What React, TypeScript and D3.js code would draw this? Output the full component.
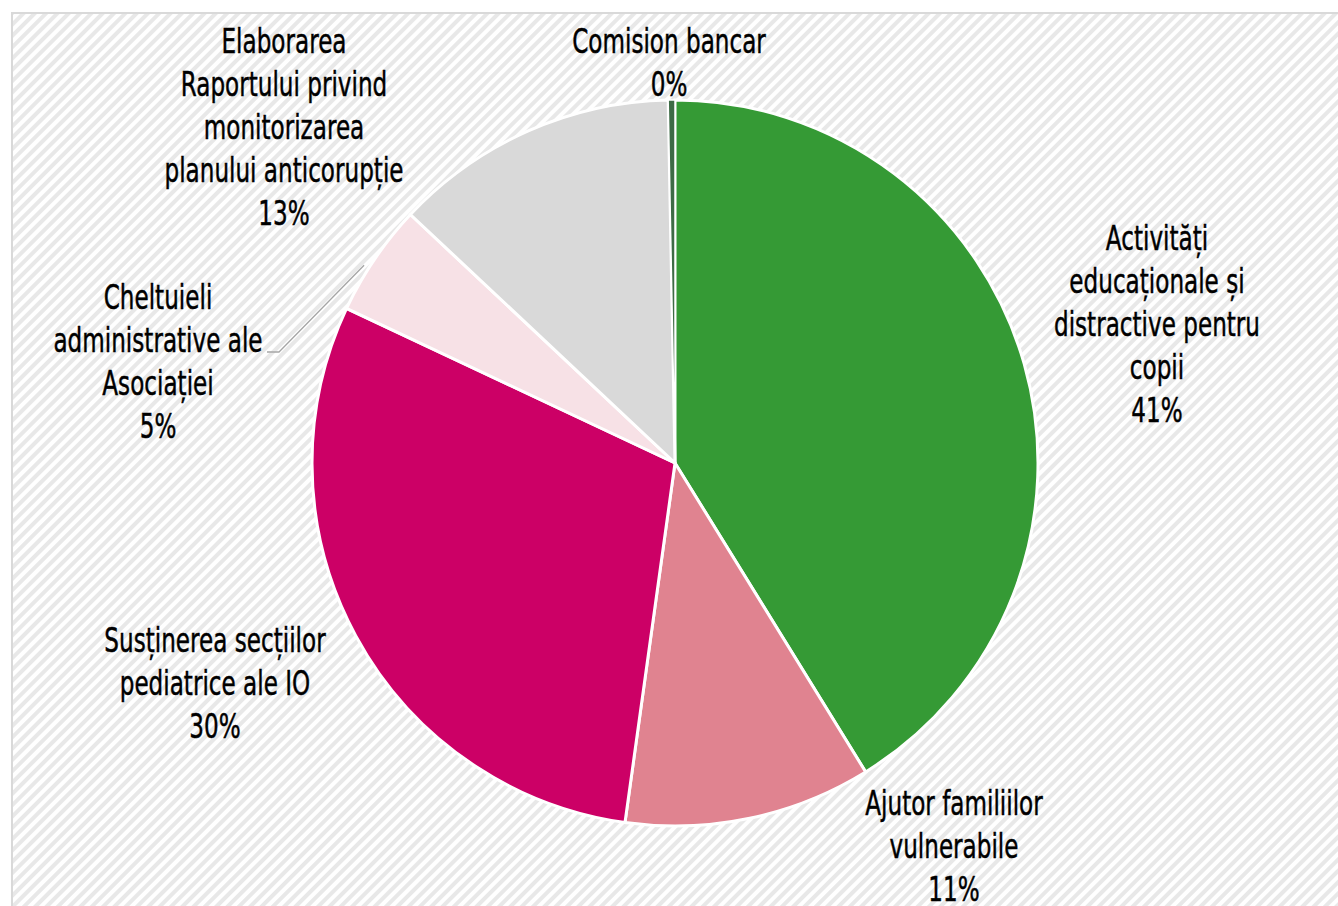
import * as d3 from 'd3';

const categories = [
  'Activități educaționale și distractive pentru copii',
  'Ajutor familiilor vulnerabile',
  'Susținerea secțiilor pediatrice ale IO',
  'Cheltuieli administrative ale Asociației',
  'Elaborarea Raportului privind monitorizarea planului anticorupție',
  'Comision bancar',
];
const values = [41.2, 11.0, 29.8, 5.0, 12.7, 0.3];
const percentLabels = ['41%', '11%', '30%', '5%', '13%', '0%'];
const labelLines = [
  ['Activități', 'educaționale și', 'distractive pentru', 'copii'],
  ['Ajutor familiilor', 'vulnerabile'],
  ['Susținerea secțiilor', 'pediatrice ale IO'],
  ['Cheltuieli', 'administrative ale', 'Asociației'],
  ['Elaborarea', 'Raportului privind', 'monitorizarea', 'planului anticorupție'],
  ['Comision bancar'],
];
const colors = ['#359a35', '#e08390', '#cc0066', '#f7e1e6', '#d9d9d9', '#3d6b45'];

// label anchor (center x, first baseline y)
const labelPos: [number, number][] = [
  [1157, 250],
  [954, 815],
  [215, 652],
  [158, 309],
  [284, 53],
  [669, 53],
];

const WIDTH = 1338;
const HEIGHT = 906;
const CX = 675;
const CY = 463;
const R = 363;
const LINE_H = 43;

export default function App() {
  const pie = d3
    .pie<number>()
    .sort(null)
    .value((d) => d);
  const arcs = pie(values);
  const arc = d3.arc<d3.PieArcDatum<number>>().innerRadius(0).outerRadius(R);

  // leader line for the small admin slice
  const adminMid = (arcs[3].startAngle + arcs[3].endAngle) / 2;
  const edge: [number, number] = [
    CX + (R - 4) * Math.sin(adminMid),
    CY - (R - 4) * Math.cos(adminMid),
  ];
  const leader = d3.line()([
    [267, 352],
    [279, 352],
    [edge[0] - 14, edge[1] + 4],
  ]);

  return (
    <svg
      width={WIDTH}
      height={HEIGHT}
      style={{ position: 'absolute', left: 0, top: 0 }}
    >
      <defs>
        <pattern
          id="diag"
          width={8}
          height={8}
          patternUnits="userSpaceOnUse"
          patternTransform="rotate(-45)"
        >
          <rect width={8} height={8} fill="#ffffff" />
          <rect width={8} height={4} fill="#e8e8e8" />
        </pattern>
      </defs>
      <rect width={WIDTH} height={HEIGHT} fill="#ffffff" />
      <rect
        x={12}
        y={13}
        width={WIDTH}
        height={HEIGHT}
        fill="url(#diag)"
        stroke="#d9d9d9"
        strokeWidth={2}
      />
      <g transform={`translate(${CX},${CY})`}>
        {arcs.map((a, i) => (
          <path
            key={categories[i]}
            d={arc(a) || ''}
            fill={colors[i]}
            stroke="#ffffff"
            strokeWidth={i === 5 ? 1.5 : 3}
          />
        ))}
      </g>
      <path d={leader || ''} fill="none" stroke="#a6a6a6" strokeWidth={1.3} />
      <g
        fontFamily="'DejaVu Sans', sans-serif"
        fontSize={34}
        fill="#000000"
        textAnchor="middle"
        stroke="#000000"
        strokeWidth={0.5}
      >
        {labelLines.map((lines, i) => (
          <g
            key={categories[i]}
            transform={`translate(${labelPos[i][0]},${labelPos[i][1]}) scale(0.68,1)`}
          >
            <text x={0} y={0}>
              {[...lines, percentLabels[i]].map((t, j) => (
                <tspan key={j} x={0} dy={j === 0 ? 0 : LINE_H}>
                  {t}
                </tspan>
              ))}
            </text>
          </g>
        ))}
      </g>
    </svg>
  );
}
